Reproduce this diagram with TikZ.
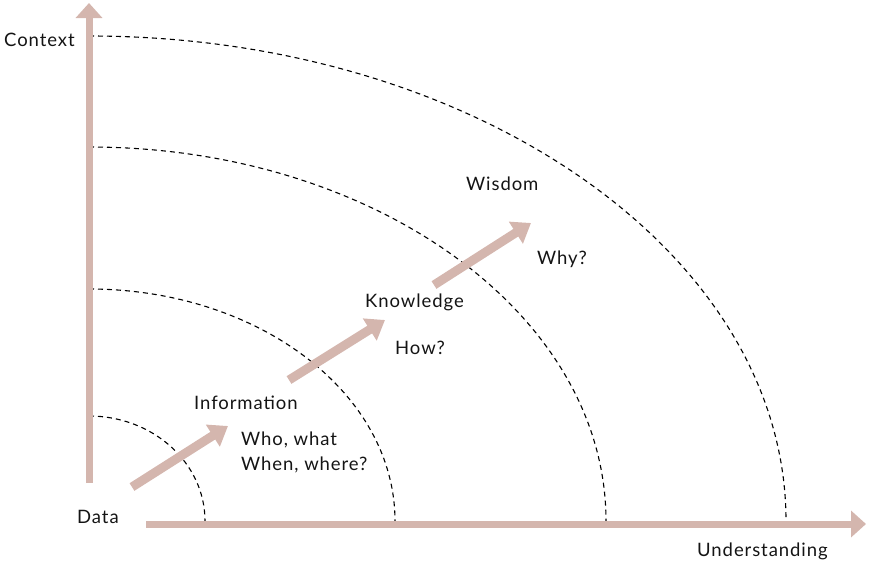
\documentclass[tikz,border=0pt]{standalone}
\usepackage{fontspec}
\setmainfont{Lato}[LetterSpace=5]
\usetikzlibrary{arrows.meta}
\definecolor{barcol}{HTML}{D4B6AE}
\tikzset{
  axisarrow/.style={draw=barcol, line width=7pt, -{Triangle[width=26pt,length=15pt]}},
  steparrow/.style={draw=barcol, line width=9pt, -{Triangle[width=25pt,length=18pt]}},
  ring/.style={dashed, dash pattern=on 5pt off 4pt, line width=1.1pt, black},
  lbl/.style={font=\fontsize{18.5}{22}\selectfont, text=black!92, inner sep=0pt, anchor=west}
}
\begin{document}
\begin{tikzpicture}[x=1pt,y=-1pt]
\useasboundingbox (0,0) rectangle (869,565);
\coordinate (o) at (89,521);
% rings
\draw[ring] (89,416) arc[start angle=-90,end angle=0,x radius=116,y radius=105];
\draw[ring] (89,289) arc[start angle=-90,end angle=0,x radius=306,y radius=232];
\draw[ring] (89,147) arc[start angle=-90,end angle=0,x radius=517,y radius=374];
\draw[ring] (89,36) arc[start angle=-90,end angle=0,x radius=697,y radius=485];
% axes
\coordinate (vy0) at (89,483);
\coordinate (vy1) at (89,3);
\coordinate (hx0) at (146,524);
\coordinate (hx1) at (866,524);
\draw[axisarrow] (vy0) -- (vy1);
\draw[axisarrow] (hx0) -- (hx1);
% step arrows
\coordinate (a0) at (132,487);
\coordinate (a1) at (228,426);
\coordinate (b0) at (289,380);
\coordinate (b1) at (385,320);
\coordinate (c0) at (434,285);
\coordinate (c1) at (531,223);
\draw[steparrow] (a0) -- (a1);
\draw[steparrow] (b0) -- (b1);
\draw[steparrow] (c0) -- (c1);
% labels
\node[lbl] (context) at (4,40) {Context};
\node[lbl] (data) at (77,517) {Data};
\node[lbl] (underst) at (697,551) {Understanding};
\node[lbl] (info) at (194,403) {Information};
\node[lbl] (who) at (241,440) {Who, what};
\node[lbl] (when) at (241,465) {When, where?};
\node[lbl] (know) at (365,302) {Knowledge};
\node[lbl] (how) at (395,348) {How?};
\node[lbl] (wis) at (466,184) {Wisdom};
\node[lbl] (why) at (537,259) {Why?};
\end{tikzpicture}
\end{document}
